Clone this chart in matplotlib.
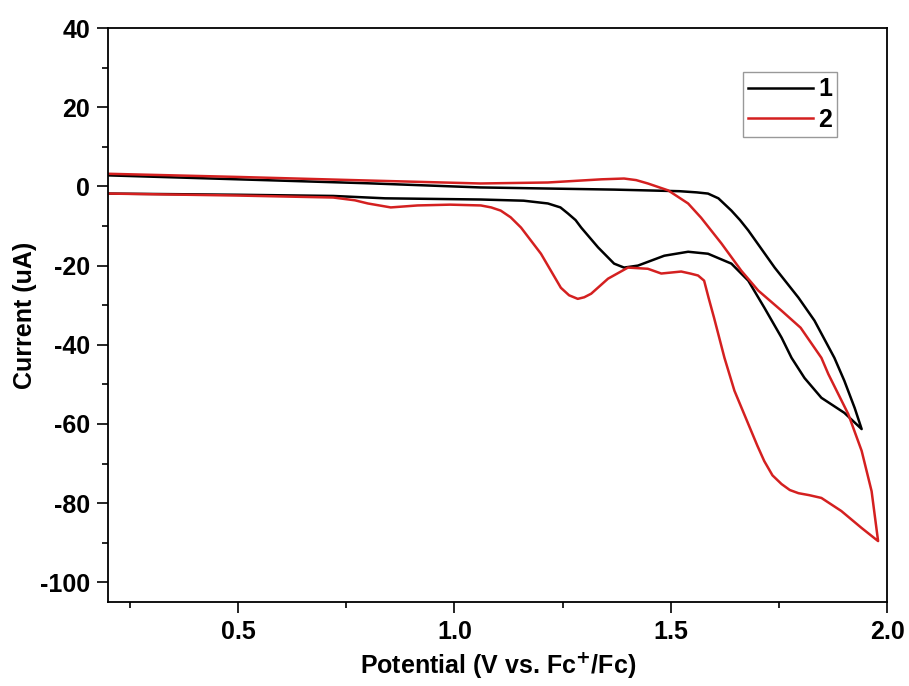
import matplotlib
matplotlib.use("Agg")
import matplotlib.pyplot as plt
from matplotlib.ticker import MultipleLocator, FormatStrFormatter

plt.rcParams['font.family'] = ['Liberation Sans', 'DejaVu Sans']
plt.rcParams['font.weight'] = 'bold'
plt.rcParams['axes.unicode_minus'] = False
plt.rcParams['mathtext.default'] = 'bf'

# curve 1: forward scan then return scan
x1 = [0.2, 0.5, 0.8, 1.06, 1.37, 1.52, 1.56, 1.586, 1.61, 1.64, 1.66, 1.679, 1.74, 1.795, 1.832, 1.878,
      1.901, 1.925, 1.941,
      1.901, 1.848, 1.809, 1.779, 1.756, 1.716, 1.679, 1.64, 1.586, 1.54, 1.485, 1.424, 1.392, 1.369,
      1.332, 1.293, 1.28, 1.262, 1.245, 1.216, 1.16, 1.061, 0.84, 0.72, 0.5, 0.2]
y1 = [2.8, 1.8, 0.8, -0.25, -0.8, -1.2, -1.5, -1.8, -3.0, -6.1, -8.5, -11.1, -20.5, -28.1, -33.9, -43.3,
      -49.1, -56.0, -61.3,
      -57.2, -53.4, -48.4, -43.3, -38.2, -30.6, -23.8, -19.5, -17.0, -16.5, -17.5, -20.0, -20.5, -19.5,
      -15.4, -10.4, -8.5, -6.8, -5.3, -4.3, -3.6, -3.3, -3.0, -2.4, -2.1, -1.8]

# curve 2
x2 = [0.2, 0.5, 0.8, 1.06, 1.216, 1.34, 1.392, 1.42, 1.447, 1.494, 1.54, 1.57, 1.617, 1.663, 1.702,
      1.756, 1.80, 1.848, 1.864, 1.91, 1.941, 1.964, 1.979,
      1.941, 1.894, 1.848, 1.82, 1.795, 1.775, 1.756, 1.735, 1.716, 1.70, 1.679, 1.647, 1.624, 1.60,
      1.587, 1.577, 1.563, 1.545, 1.524, 1.478, 1.447, 1.401, 1.355, 1.316, 1.30, 1.285, 1.265, 1.246,
      1.2, 1.154, 1.13, 1.107, 1.085, 1.061, 0.99, 0.915, 0.853, 0.80, 0.77, 0.72, 0.5, 0.2]
y2 = [3.2, 2.4, 1.5, 0.75, 1.0, 1.8, 2.0, 1.6, 0.75, -1.0, -4.3, -7.9, -14.4, -21.3, -26.3,
      -31.4, -35.7, -43.3, -47.4, -57.5, -66.8, -77.0, -89.6,
      -86.3, -82.0, -78.7, -78.0, -77.5, -76.7, -75.2, -73.0, -69.4, -65.5, -60.0, -51.6, -43.3, -33.2,
      -28.0, -23.8, -22.5, -22.0, -21.5, -22.0, -20.8, -20.5, -23.3, -27.1, -28.0, -28.4, -27.5, -25.6,
      -17.0, -10.4, -7.8, -6.1, -5.3, -4.8, -4.6, -4.8, -5.3, -4.3, -3.5, -2.8, -2.3, -1.8]

fig = plt.figure(figsize=(9.09, 6.86), dpi=100)
ax = fig.add_axes([0.119, 0.1224, 0.857, 0.8366])

ax.plot(x1, y1, color='black', lw=1.8, label='1')
ax.plot(x2, y2, color='#d42020', lw=1.8, label='2')

ax.set_xlim(0.2, 2.0)
ax.set_ylim(-105, 40)
ax.xaxis.set_major_locator(MultipleLocator(0.5))
ax.xaxis.set_minor_locator(MultipleLocator(0.25))
ax.xaxis.set_major_formatter(FormatStrFormatter('%.1f'))
ax.yaxis.set_major_locator(MultipleLocator(20))
ax.yaxis.set_minor_locator(MultipleLocator(10))

ax.tick_params(which='major', direction='out', length=8, width=1.2, labelsize=18, pad=5)
ax.tick_params(which='minor', direction='out', length=4, width=1.2)
for s in ax.spines.values():
    s.set_linewidth(1.3)

ax.set_xlabel('Potential (V vs. Fc$^{+}$/Fc)', fontsize=18, fontweight='bold', labelpad=4)
ax.set_ylabel('Current (uA)', fontsize=18, fontweight='bold', labelpad=2)

leg = ax.legend(loc='upper right', bbox_to_anchor=(0.936, 0.923), fontsize=18, frameon=True,
                fancybox=False, edgecolor='gray', handlelength=2.6, handletextpad=0.2,
                borderpad=0.2, labelspacing=0.25, borderaxespad=0)
leg.get_frame().set_linewidth(1.0)

fig.savefig('out.png', dpi=100)
